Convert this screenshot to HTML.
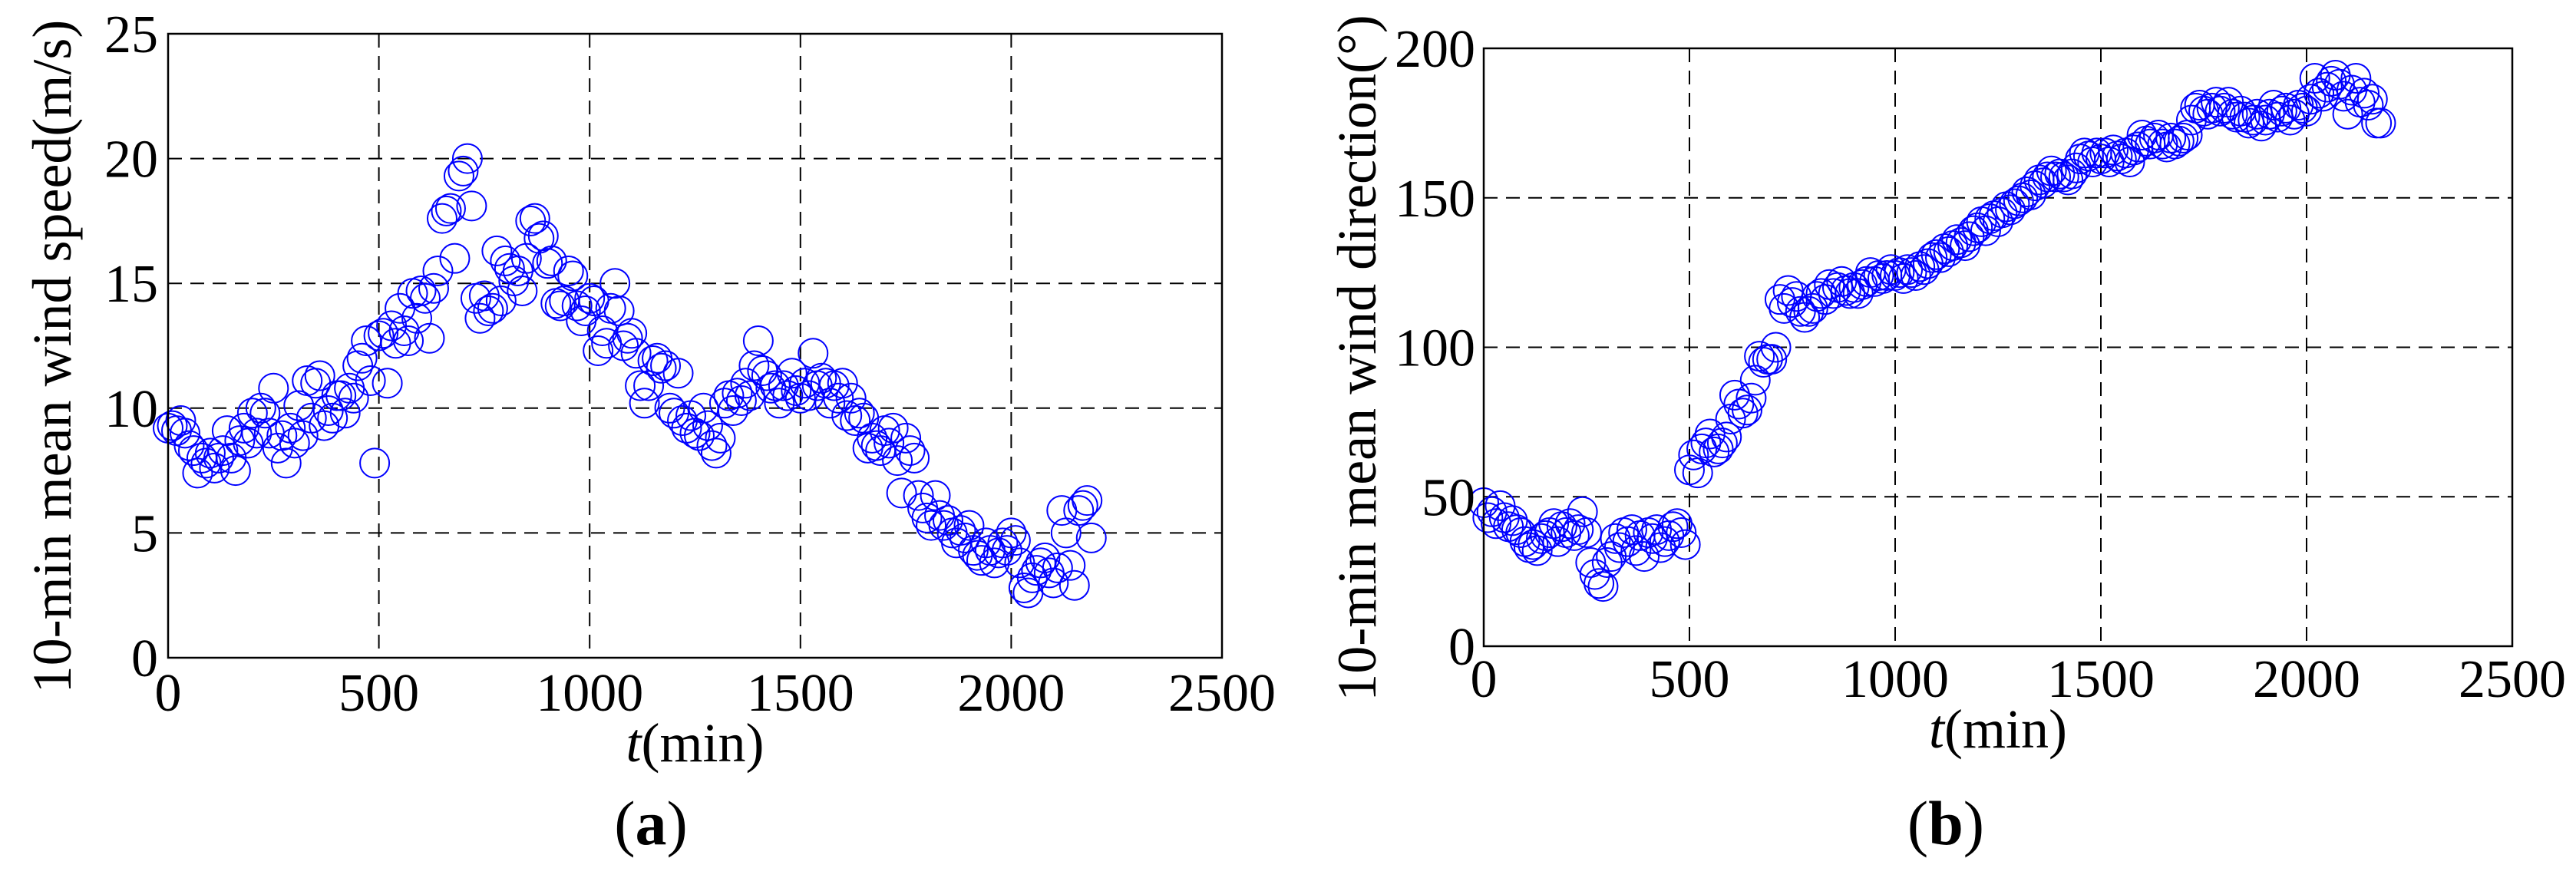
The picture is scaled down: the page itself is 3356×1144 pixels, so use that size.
<!DOCTYPE html>
<html><head><meta charset="utf-8"><style>
html,body{margin:0;padding:0;background:#fff;}
svg{display:block;font-family:"Liberation Serif","DejaVu Serif",serif;}
text{font-family:"Liberation Serif","DejaVu Serif",serif;}
</style></head><body>
<svg id="fig" width="3356" height="1144" viewBox="0 0 3356 1144" xmlns="http://www.w3.org/2000/svg" font-family="Liberation Serif, DejaVu Serif, serif"></svg>
<script>
const speedA = [9.2,9.3,9.1,9.5,9.0,8.5,8.3,7.4,8.0,7.8,
8.2,7.6,8.0,8.3,9.1,8.0,7.5,8.7,9.2,8.6,
9.8,9.0,10.0,9.8,9.0,10.8,8.4,8.9,7.8,9.2,
8.6,10.1,8.9,11.1,9.6,11.0,11.3,9.3,9.9,9.6,
10.5,10.5,9.8,10.8,10.4,11.7,12.0,12.7,11.1,7.8,
12.9,13.0,11.0,13.3,12.6,14.0,13.1,12.7,14.6,13.6,
14.7,14.4,12.8,14.8,15.5,17.6,17.9,18.0,16.0,19.3,
19.5,20.0,18.1,14.4,13.6,14.5,13.9,14.0,16.3,14.3,
15.9,15.6,15.1,15.5,14.7,16.0,17.5,17.6,16.8,16.9,
15.8,15.9,14.2,14.1,14.3,15.5,15.3,14.1,13.5,13.9,
14.4,14.3,12.3,13.1,12.6,14.0,15.0,13.9,12.5,12.8,
13.0,12.2,10.9,10.2,10.9,11.9,12.0,11.6,11.7,10.0,
9.8,11.4,9.5,9.2,9.7,9.0,8.9,10.0,9.3,8.5,
8.2,8.8,10.2,10.5,9.9,10.6,10.3,11.0,10.5,11.7,
12.7,11.5,11.3,10.8,10.9,10.2,10.9,10.5,11.4,10.7,
10.4,11.0,10.5,12.2,10.9,11.2,11.0,10.2,10.9,10.4,
11.0,9.7,10.4,9.5,9.8,9.6,8.4,8.8,8.5,8.3,
9.1,8.6,9.2,7.9,6.6,8.8,8.3,8.0,6.5,6.0,
5.6,5.3,6.5,5.7,5.3,5.5,5.0,4.6,5.1,4.8,
5.3,4.3,4.1,3.9,4.6,4.3,3.8,4.2,4.6,4.3,
5.0,4.7,3.8,2.8,2.6,3.2,3.5,3.8,4.0,3.4,
3.0,3.6,5.9,5.0,3.7,2.9,5.9,6.1,6.3,4.8];
const dirB = [48,43,45,41,47,43,40,42,39,38,
35,33,34,32,36,37,38,41,35,40,
38,41,37,39,45,38,28,24,21,20,
28,30,36,33,38,35,39,32,37,30,
38,36,39,33,35,37,40,41,38,34,
59,64,58,66,68,71,65,66,68,70,
76,84,81,78,79,83,89,97,95,96,
96,100,116,113,119,115,117,112,110,112,
113,117,118,116,121,118,120,122,119,118,
120,118,121,122,125,122,124,123,124,126,
124,125,123,126,125,124,127,126,128,130,
131,130,133,132,134,136,135,134,137,139,
140,142,139,143,144,142,145,147,146,148,
149,150,152,151,154,156,155,157,159,157,
158,157,156,158,160,163,165,164,162,165,
163,165,162,166,164,163,165,162,166,167,
171,169,168,170,171,168,167,170,168,169,
170,171,176,180,181,179,178,180,182,179,
180,182,178,177,179,177,175,176,178,174,
176,178,181,177,179,180,176,178,181,180,
179,183,190,185,184,187,189,191,188,184,
178,186,190,182,185,181,183,175,175];
const xTicks = [0,500,1000,1500,2000,2500];
const yTicksA = [0,5,10,15,20,25];
const yTicksB = [0,50,100,150,200];

const NS = "http://www.w3.org/2000/svg";
const FF = '"Liberation Serif", "DejaVu Serif", serif';
const svg = document.getElementById('fig');
function mk(tag, attrs, parent){
  const e = document.createElementNS(NS, tag);
  for (const k in attrs) e.setAttribute(k, attrs[k]);
  if (tag === 'text') e.setAttribute('font-family', FF);
  (parent||svg).appendChild(e);
  return e;
}
function drawPanel(cfg){
  const g = mk('g', {});
  
  
  const xs = v => cfg.L + v / 2500 * (cfg.R - cfg.L);
  const ys = v => cfg.B - v / cfg.ymax * (cfg.B - cfg.T);
  xTicks.forEach(t => {
    if (t > 0 && t < 2500) {
      const l = mk('line', {x1:xs(t), x2:xs(t), y1:cfg.T, y2:cfg.B, stroke:'#000', 'stroke-width':2, 'stroke-dasharray':'18 11'}, g);
      
      
    }
  });
  cfg.yTicks.forEach(t => {
    if (t > 0 && t < cfg.ymax) {
      const l = mk('line', {x1:cfg.L, x2:cfg.R, y1:ys(t), y2:ys(t), stroke:'#000', 'stroke-width':2, 'stroke-dasharray':'18 11'}, g);
      
      
    }
  });
  cfg.data.forEach((v, i) => {
    const c = mk('circle', {cx:xs(i*10), cy:ys(v), r:19, fill:'none', stroke:'#0000ff', 'stroke-width':2}, g);
    
    
  });
  const f = mk('rect', {x:cfg.L, y:cfg.T, width:cfg.R-cfg.L, height:cfg.B-cfg.T, fill:'none', stroke:'#000', 'stroke-width':2.5}, g);
  
  
  xTicks.forEach(t => {
    const tx = mk('text', {x:xs(t), y:cfg.xLabBase, 'font-size':70, 'text-anchor':'middle'}, g);
    
    
    tx.textContent = t;
  });
  cfg.yTicks.forEach(t => {
    const tx = mk('text', {x:cfg.yLabRight, y:ys(t)+24, 'font-size':70, 'text-anchor':'end'}, g);
    
    
    tx.textContent = t;
  });
  const xt = mk('text', {x:(cfg.L+cfg.R)/2, y:cfg.xTitleBase, 'font-size':72, 'text-anchor':'middle'}, g);
  
  
  const ti = document.createElementNS(NS, 'tspan');
  ti.setAttribute('font-style', 'italic');
  ti.textContent = 't';
  xt.appendChild(ti);
  xt.appendChild(document.createTextNode('(min)'));
  const yt = mk('text', {x:0, y:0, 'font-size':72, 'text-anchor':'middle', transform:'translate('+cfg.yTitleX+','+((cfg.T+cfg.B)/2+14)+') rotate(-90)'}, g);
  
  
  yt.textContent = cfg.yTitle;
  const pl = mk('text', {x:cfg.panelX, y:1100, 'font-size':82, 'text-anchor':'middle'}, g);
  
  
  pl.appendChild(document.createTextNode('('));
  const tb = document.createElementNS(NS, 'tspan');
  tb.setAttribute('font-weight', 'bold');
  tb.textContent = cfg.letter;
  pl.appendChild(tb);
  pl.appendChild(document.createTextNode(')'));
}
drawPanel({name:'wind-speed-chart', L:219, R:1592, T:44, B:857, ymax:25, yTicks:yTicksA, data:speedA,
  xLabBase:926, yLabRight:206, xTitleBase:992, yTitleX:92, yTitle:'10-min mean wind speed(m/s)', panelX:848, letter:'a'});
drawPanel({name:'wind-direction-chart', L:1933, R:3273, T:63, B:842, ymax:200, yTicks:yTicksB, data:dirB,
  xLabBase:908, yLabRight:1922, xTitleBase:974, yTitleX:1792, yTitle:'10-min mean wind direction(°)', panelX:2535, letter:'b'});
</script>
</body></html>
